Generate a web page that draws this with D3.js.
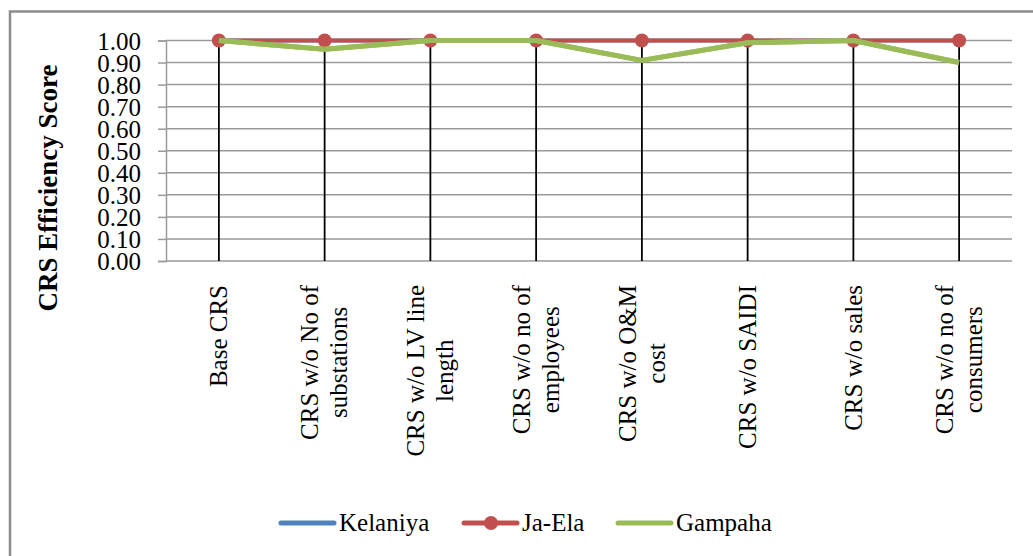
<!DOCTYPE html>
<html>
<head>
<meta charset="utf-8">
<script src="https://cdn.jsdelivr.net/npm/d3@7"></script>
<style>
  body { margin: 0; background: #fff; }
  svg { display: block; font-family: "Liberation Serif", "Times New Roman", serif; }
</style>
</head>
<body>
<svg id="chart" width="1033" height="556"></svg>
<script>
// chart values
const categories = [
    ["Base CRS"],
    ["CRS w/o No of", "substations"],
    ["CRS w/o LV line", "length"],
    ["CRS w/o no of", "employees"],
    ["CRS w/o O&M", "cost"],
    ["CRS w/o SAIDI"],
    ["CRS w/o sales"],
    ["CRS w/o no of", "consumers"]
];
const kelaniya = [1.00, 1.00, 1.00, 1.00, 1.00, 1.00, 1.00, 1.00];
const jaEla    = [1.00, 1.00, 1.00, 1.00, 1.00, 1.00, 1.00, 1.00];
const gampaha  = [1.00, 0.96, 1.00, 1.00, 0.91, 0.99, 1.00, 0.90];
const yTicks = [0, 0.1, 0.2, 0.3, 0.4, 0.5, 0.6, 0.7, 0.8, 0.9, 1.0];
const yTitle = "CRS Efficiency Score";

const series = [
    { name: "Kelaniya", values: kelaniya, color: "#4f81bd", width: 4, marker: false },
    { name: "Ja-Ela", values: jaEla, color: "#c0504d", width: 4, marker: true },
    { name: "Gampaha", values: gampaha, color: "#9bbb59", width: 5, marker: false }
];

const svg = d3.select("#chart");
const plot = { left: 166, right: 1012, top: 40.5, bottom: 261 };

// outer frame (only left and top edges show in the picture)
svg.append("path")
    .attr("d", "M10,560 V11.5 H1040")
    .attr("fill", "none")
    .attr("stroke", "#8c8c8c")
    .attr("stroke-width", 2.5);

const x = d3.scaleBand()
    .domain(d3.range(categories.length))
    .range([plot.left, plot.right])
    .padding(0);

const y = d3.scaleLinear()
    .domain([0, 1])
    .range([plot.bottom, plot.top]);

// horizontal gridlines
svg.append("g")
    .selectAll("line")
    .data(yTicks)
    .join("line")
    .attr("x1", plot.left)
    .attr("x2", plot.right)
    .attr("y1", d => y(d))
    .attr("y2", d => y(d))
    .attr("stroke", "#9a9a9a")
    .attr("stroke-width", 1.5);

// y axis
const yAxis = svg.append("g")
    .attr("transform", `translate(${plot.left},0)`)
    .call(d3.axisLeft(y).tickValues(yTicks).tickFormat(d3.format(".2f")).tickSize(8).tickPadding(17));
yAxis.select(".domain").attr("stroke", "#9a9a9a").attr("stroke-width", 1.5);
yAxis.selectAll(".tick line").attr("stroke", "#9a9a9a").attr("stroke-width", 1.5);
yAxis.selectAll(".tick text")
    .attr("font-family", "Liberation Serif, serif")
    .attr("font-size", 25)
    .attr("fill", "#000")
    .attr("dy", "0.34em");

// y title
svg.append("text")
    .attr("transform", "translate(57,188) rotate(-90)")
    .attr("text-anchor", "middle")
    .attr("font-size", 27)
    .attr("font-weight", "bold")
    .text(yTitle);

// drop lines
const maxVals = categories.map((c, i) => d3.max(series, s => s.values[i]));
svg.append("g")
    .selectAll("line")
    .data(maxVals)
    .join("line")
    .attr("x1", (d, i) => x(i) + x.bandwidth() / 2)
    .attr("x2", (d, i) => x(i) + x.bandwidth() / 2)
    .attr("y1", d => y(d))
    .attr("y2", y(0))
    .attr("stroke", "#000")
    .attr("stroke-width", 1.8);

// category labels, rotated
const lh = 29;
const labels = svg.append("g")
    .attr("font-size", 25);
categories.forEach((lines, i) => {
    const cx = x(i) + x.bandwidth() / 2;
    const g = labels.append("g").attr("transform", `translate(${cx},285) rotate(-90)`);
    const texts = g.selectAll("text")
        .data(lines)
        .join("text")
        .attr("text-anchor", "middle")
        .attr("y", (d, j) => (j - (lines.length - 1) / 2) * lh)
        .attr("dy", "0.33em")
        .text(d => d);
    const maxW = d3.max(texts.nodes(), n => n.getComputedTextLength());
    texts.attr("x", -maxW / 2);
});

// series lines
const line = d3.line()
    .x((d, i) => x(i) + x.bandwidth() / 2)
    .y(d => y(d));

series.forEach(s => {
    svg.append("path")
        .datum(s.values)
        .attr("d", line)
        .attr("fill", "none")
        .attr("stroke", s.color)
        .attr("stroke-width", s.width)
        .attr("stroke-linejoin", "round");
    if (s.marker) {
        svg.append("g")
            .selectAll("circle")
            .data(s.values)
            .join("circle")
            .attr("cx", (d, i) => x(i) + x.bandwidth() / 2)
            .attr("cy", d => y(d))
            .attr("r", 7)
            .attr("fill", s.color);
    }
});
// keep Gampaha above the markers
svg.append("path")
    .datum(gampaha)
    .attr("d", line)
    .attr("fill", "none")
    .attr("stroke", "#9bbb59")
    .attr("stroke-width", 5)
    .attr("stroke-linejoin", "round");

// legend
const legendX = [281, 464, 618];
const legend = svg.append("g").attr("font-size", 25);
series.forEach((s, i) => {
    const lx = legendX[i];
    legend.append("line")
        .attr("x1", lx).attr("x2", lx + 53)
        .attr("y1", 523).attr("y2", 523)
        .attr("stroke", s.color)
        .attr("stroke-width", 5)
        .attr("stroke-linecap", "round");
    if (s.marker) {
        legend.append("circle")
            .attr("cx", lx + 27).attr("cy", 523).attr("r", 7)
            .attr("fill", s.color);
    }
    legend.append("text")
        .attr("x", lx + 58)
        .attr("y", 523)
        .attr("dy", "0.33em")
        .text(s.name);
});
</script>
</body>
</html>
